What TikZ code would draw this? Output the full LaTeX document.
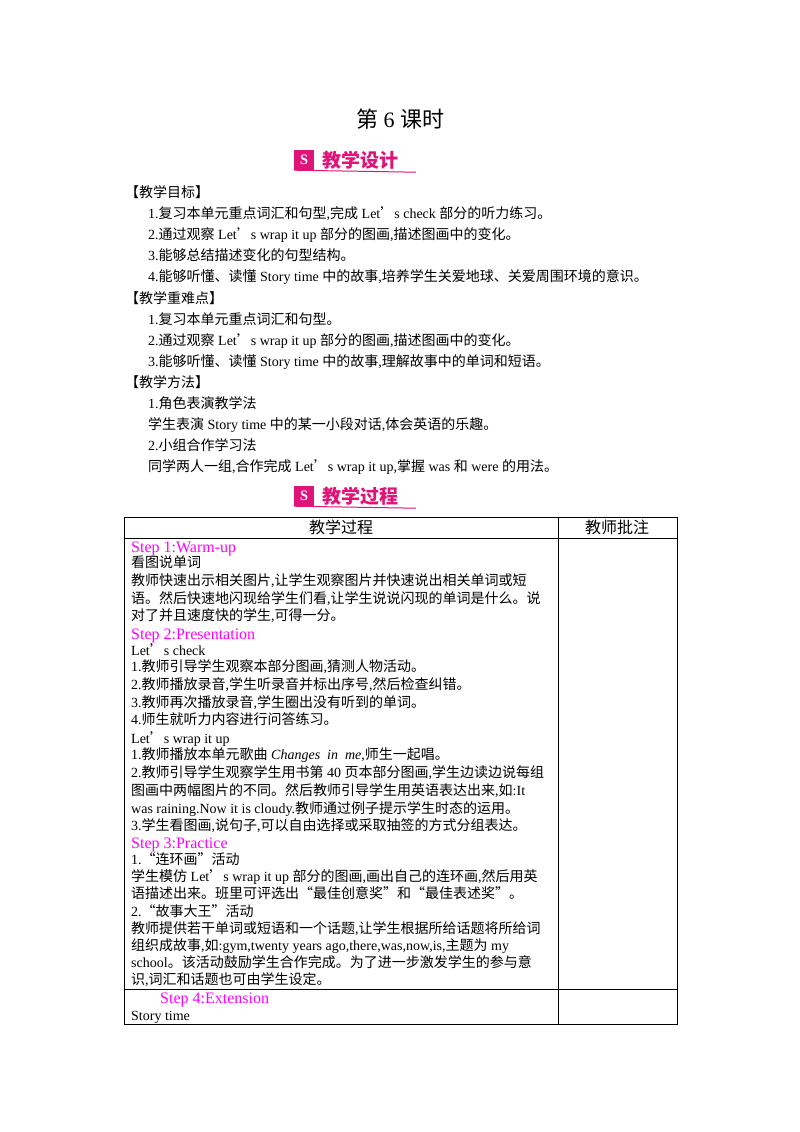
\documentclass[tikz,border=0pt]{standalone}
\usepackage{fontspec}
\setmainfont{Liberation Serif}
\newfontfamily\cjkf{Noto Sans CJK SC}
\newfontfamily\latf{Liberation Serif}
\XeTeXinterchartokenstate=1
\newXeTeXintercharclass\cjkclass
\count255="4E00 \loop \XeTeXcharclass\count255=\cjkclass \advance\count255 1 \ifnum\count255<"A000 \repeat
\count255="3000 \loop \XeTeXcharclass\count255=\cjkclass \advance\count255 1 \ifnum\count255<"3040 \repeat
\count255="FF00 \loop \XeTeXcharclass\count255=\cjkclass \advance\count255 1 \ifnum\count255<"FFF0 \repeat
\count255="2018 \loop \XeTeXcharclass\count255=\cjkclass \advance\count255 1 \ifnum\count255<"201E \repeat
\XeTeXinterchartoks 0 \cjkclass = {\cjkf}
\XeTeXinterchartoks 4095 \cjkclass = {\cjkf}
\XeTeXinterchartoks \cjkclass 0 = {\latf}
\XeTeXinterchartoks \cjkclass 4095 = {\latf}
\definecolor{mag}{RGB}{255,0,255}
\definecolor{ban}{RGB}{222,20,120}
\tikzset{t/.style={anchor=base west,inner sep=0pt,font=\fontsize{14}{16}\selectfont},
 st/.style={t,text=mag,font=\fontsize{16}{18}\selectfont},
 hd/.style={anchor=base,inner sep=0pt,font=\fontsize{16}{18}\selectfont},
 bl/.style={draw=black,line width=0.8pt},
 bicon/.style={fill=ban,minimum size=20pt,inner sep=0pt,text=white,font=\bfseries\Large},
 btext/.style={anchor=west,inner sep=0pt,text=ban,font=\bfseries\fontsize{19}{20}\selectfont}}
\begin{document}
\begin{tikzpicture}[x=1pt,y=-1pt]
\useasboundingbox (0,0) rectangle (800,1132);
\node[anchor=base,inner sep=0pt,font=\fontsize{22}{24}\selectfont] (title) at (400,127) {第 6 课时};
\node[bicon] (b1i) at (304,160) {S};
\node[btext] (b1t) at (322,160) {\cjkf 教学设计};
\draw[ban,line width=1pt] (b1i.south west) -- ++(122,2);
\node[t] (a0) at (125,197) {【教学目标】};
\node[t] (a1) at (148,218) {1.复习本单元重点词汇和句型,完成 Let’s check 部分的听力练习。};
\node[t] (a2) at (148,239) {2.通过观察 Let’s wrap it up 部分的图画,描述图画中的变化。};
\node[t] (a3) at (148,260) {3.能够总结描述变化的句型结构。};
\node[t] (a4) at (148,281) {4.能够听懂、读懂 Story time 中的故事,培养学生关爱地球、关爱周围环境的意识。};
\node[t] (b0) at (125,303) {【教学重难点】};
\node[t] (b1) at (148,324) {1.复习本单元重点词汇和句型。};
\node[t] (b2) at (148,345) {2.通过观察 Let’s wrap it up 部分的图画,描述图画中的变化。};
\node[t] (b3) at (148,366) {3.能够听懂、读懂 Story time 中的故事,理解故事中的单词和短语。};
\node[t] (c0) at (125,387) {【教学方法】};
\node[t] (c1) at (148,408) {1.角色表演教学法};
\node[t] (c2) at (148,429) {学生表演 Story time 中的某一小段对话,体会英语的乐趣。};
\node[t] (c3) at (148,450) {2.小组合作学习法};
\node[t] (c4) at (148,471) {同学两人一组,合作完成 Let’s wrap it up,掌握 was 和 were 的用法。};
\node[bicon] (b2i) at (304,496) {S};
\node[btext] (b2t) at (322,496) {\cjkf 教学过程};
\draw[ban,line width=1pt] (b2i.south west) -- ++(122,2);
% table
\draw[bl] (124,517) rectangle (677,1024);
\draw[bl] (558,517) -- (558,1024);
\draw[bl] (124,538) -- (677,538);
\draw[bl] (124,989) -- (677,989);
\node[hd] (h1) at (341,533) {教学过程};
\node[hd] (h2) at (617,533) {教师批注};
\node[st] (s1) at (131,552) {Step 1:Warm-up};
\node[t] (l1) at (131,567) {看图说单词};
\node[t] (l2) at (131,585) {教师快速出示相关图片,让学生观察图片并快速说出相关单词或短};
\node[t] (l3) at (131,603) {语。然后快速地闪现给学生们看,让学生说说闪现的单词是什么。说};
\node[t] (l4) at (131,620) {对了并且速度快的学生,可得一分。};
\node[st] (s2) at (131,639) {Step 2:Presentation};
\node[t] (l5) at (131,655) {Let’s check};
\node[t] (l6) at (131,671) {1.教师引导学生观察本部分图画,猜测人物活动。};
\node[t] (l7) at (131,689) {2.教师播放录音,学生听录音并标出序号,然后检查纠错。};
\node[t] (l8) at (131,707) {3.教师再次播放录音,学生圈出没有听到的单词。};
\node[t] (l9) at (131,724) {4.师生就听力内容进行问答练习。};
\node[t] (l10) at (131,743) {Let’s wrap it up};
\node[t] (l11) at (131,759) {1.教师播放本单元歌曲 \textit{Changes\ \ in\ \ me},师生一起唱。};
\node[t] (l12) at (131,777) {2.教师引导学生观察学生用书第 40 页本部分图画,学生边读边说每组};
\node[t] (l13) at (131,795) {图画中两幅图片的不同。然后教师引导学生用英语表达出来,如:It};
\node[t] (l14) at (131,813) {was raining.Now it is cloudy.教师通过例子提示学生时态的运用。};
\node[t] (l15) at (131,830) {3.学生看图画,说句子,可以自由选择或采取抽签的方式分组表达。};
\node[st] (s3) at (131,848) {Step 3:Practice};
\node[t] (l16) at (131,864) {1.“连环画”活动};
\node[t] (l17) at (131,881) {学生模仿 Let’s wrap it up 部分的图画,画出自己的连环画,然后用英};
\node[t] (l18) at (131,898) {语描述出来。班里可评选出“最佳创意奖”和“最佳表述奖”。};
\node[t] (l19) at (131,916) {2.“故事大王”活动};
\node[t] (l20) at (131,933) {教师提供若干单词或短语和一个话题,让学生根据所给话题将所给词};
\node[t] (l21) at (131,950) {组织成故事,如:gym,twenty years ago,there,was,now,is,主题为 my};
\node[t] (l22) at (131,967) {school。该活动鼓励学生合作完成。为了进一步激发学生的参与意};
\node[t] (l23) at (131,984) {识,词汇和话题也可由学生设定。};
\node[st] (s4) at (160,1003) {Step 4:Extension};
\node[t] (l24) at (131,1020) {Story time};
\end{tikzpicture}
\end{document}
